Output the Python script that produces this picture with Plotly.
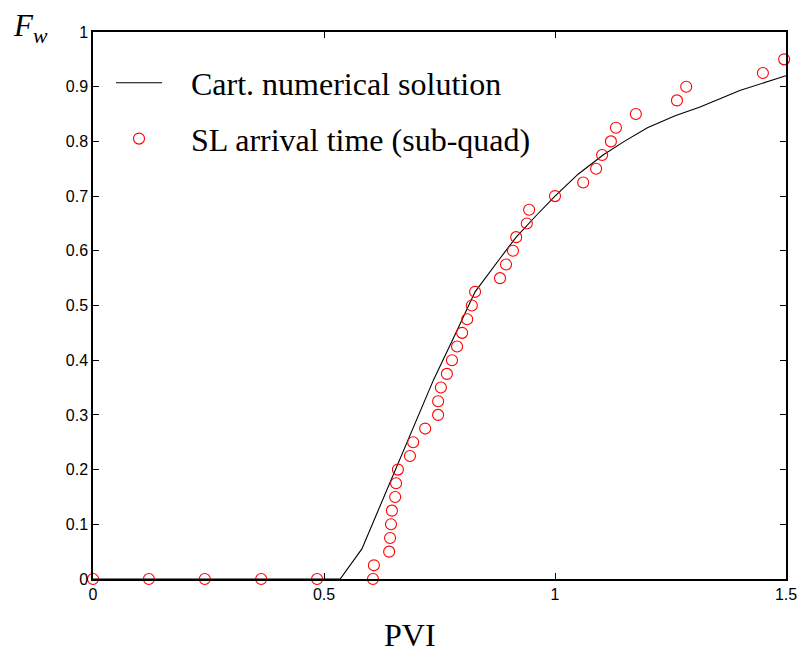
import plotly.graph_objects as go

# Numerical (Cartesian) fractional-flow curve
pvi_num = [0.0, 0.535, 0.582, 0.62, 0.66, 0.70, 0.737, 0.78, 0.827, 0.88, 0.916,
           0.96, 1.0, 1.05, 1.104, 1.15, 1.2, 1.26, 1.314, 1.4, 1.45, 1.5]
fw_num = [0.0, 0.0, 0.055, 0.13, 0.21, 0.29, 0.364, 0.44, 0.525, 0.585, 0.625,
          0.665, 0.70, 0.74, 0.775, 0.80, 0.825, 0.847, 0.863, 0.893, 0.907, 0.92]

# Streamline arrival times (sub-quadrature)
pvi_sl = [0.0, 0.121, 0.242, 0.364, 0.485, 0.606, 0.608, 0.641, 0.643, 0.645,
          0.647, 0.654, 0.656, 0.660, 0.686, 0.693, 0.719, 0.747, 0.747, 0.753,
          0.766, 0.777, 0.788, 0.799, 0.810, 0.820, 0.827, 0.881, 0.894, 0.909,
          0.916, 0.939, 0.944, 1.0, 1.061, 1.089, 1.102, 1.121, 1.132, 1.175,
          1.264, 1.284, 1.450, 1.496]
fw_sl = [0.0, 0.0, 0.0, 0.0, 0.0, 0.0, 0.025, 0.05, 0.075, 0.1,
         0.125, 0.15, 0.175, 0.2, 0.225, 0.25, 0.275, 0.3, 0.325, 0.35,
         0.375, 0.4, 0.425, 0.45, 0.475, 0.5, 0.525, 0.55, 0.575, 0.6,
         0.625, 0.65, 0.675, 0.7, 0.725, 0.75, 0.775, 0.8, 0.825, 0.85,
         0.875, 0.9, 0.925, 0.95]

x_ticks = [0, 0.5, 1, 1.5]
x_labels = ["0", "0.5", "1", "1.5"]
y_ticks = [0, 0.1, 0.2, 0.3, 0.4, 0.5, 0.6, 0.7, 0.8, 0.9, 1]
y_labels = ["0", "0.1", "0.2", "0.3", "0.4", "0.5", "0.6", "0.7", "0.8", "0.9", "1"]

# non-breaking spaces widen the gap between legend symbol and label
GAP = "\u00a0\u00a0\u00a0"

fig = go.Figure()
fig.add_trace(go.Scatter(
    x=pvi_num, y=fw_num, mode="lines", name=GAP + "Cart. numerical solution",
    line=dict(color="black", width=1.1), legend="legend",
))
fig.add_trace(go.Scatter(
    x=pvi_sl, y=fw_sl, mode="markers", name=GAP + "SL arrival time (sub-quad)",
    marker=dict(symbol="circle-open", size=11, color="red", line=dict(width=1.1)),
    cliponaxis=False, legend="legend2",
))

axis_common = dict(
    showgrid=False, zeroline=False, showline=True, linecolor="black", linewidth=1.5,
    mirror="ticks", ticks="inside", ticklen=6, tickcolor="black", tickwidth=1,
    tickfont=dict(family="Liberation Sans", size=16, color="black"),
    automargin=False,
)

fig.update_xaxes(range=[0, 1.5], tickvals=x_ticks, ticktext=x_labels, **axis_common)
fig.update_yaxes(range=[0, 1], tickvals=y_ticks, ticktext=y_labels, **axis_common)

fig.add_annotation(
    text="PVI", xref="paper", yref="paper", x=0.457, y=-0.102, yanchor="middle",
    showarrow=False, font=dict(family="Liberation Serif", size=32, color="black"),
)
fig.add_annotation(
    text="<i>F</i><sub><i>w</i></sub>", xref="paper", yref="paper",
    x=-0.118, y=1.008, xanchor="left", yanchor="middle",
    showarrow=False, font=dict(family="Liberation Serif", size=31, color="black"),
)

legend_style = dict(
    xanchor="left", yanchor="top",
    bgcolor="rgba(0,0,0,0)", borderwidth=0,
    font=dict(family="Liberation Serif", size=32, color="black"),
    itemwidth=46,
)

fig.update_layout(
    width=801, height=653,
    margin=dict(l=93, r=15, t=32, b=74),
    paper_bgcolor="white", plot_bgcolor="white",
    showlegend=True,
    legend=dict(x=0.026, y=0.957, **legend_style),
    legend2=dict(x=0.026, y=0.855, **legend_style),
)

fig.write_html("out.html")
